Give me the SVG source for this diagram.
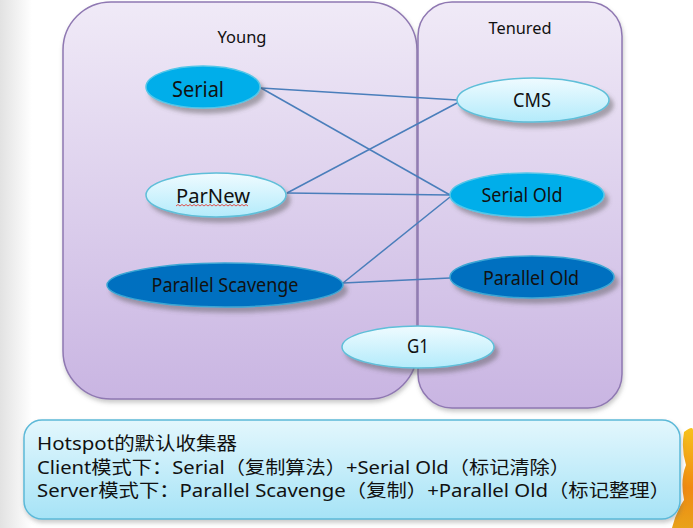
<svg xmlns="http://www.w3.org/2000/svg" width="693" height="528" viewBox="0 0 693 528">
<defs>
<linearGradient id="bgL" x1="0" y1="0" x2="1" y2="0"><stop offset="0" stop-color="#e2e2e2"/><stop offset="1" stop-color="#ffffff"/></linearGradient>
<linearGradient id="boxG" x1="0" y1="0" x2="0" y2="1"><stop offset="0" stop-color="#f0eaf7"/><stop offset="1" stop-color="#c9b5e2"/></linearGradient>
<linearGradient id="lightG" x1="0" y1="0" x2="0" y2="1"><stop offset="0" stop-color="#effbff"/><stop offset="1" stop-color="#b3ebfb"/></linearGradient>
<linearGradient id="noteG" x1="0" y1="0" x2="0" y2="1"><stop offset="0" stop-color="#e3f7fd"/><stop offset="1" stop-color="#a6e3f6"/></linearGradient>
<linearGradient id="sunG" x1="0" y1="0" x2="0" y2="1"><stop offset="0" stop-color="#f7c21b"/><stop offset="0.6" stop-color="#f08a10"/><stop offset="1" stop-color="#e8a21a"/></linearGradient>
<filter id="sh" x="-20%" y="-20%" width="150%" height="160%"><feDropShadow dx="4" dy="5" stdDeviation="2" flood-color="#555" flood-opacity="0.45"/></filter>
<filter id="shb" x="-10%" y="-10%" width="120%" height="120%"><feDropShadow dx="1" dy="3" stdDeviation="2" flood-color="#666" flood-opacity="0.35"/></filter>
</defs>
<style>
.box{fill:url(#boxG);stroke:#8f78b2;stroke-width:1.5}
.light{fill:url(#lightG);stroke:#5ebfd9;stroke-width:1.5}
.mid{fill:#00aeea;stroke:#52c6e8;stroke-width:1.5}
.dark{fill:#0070c0;stroke:#3aa6d4;stroke-width:1.5}
.lbl{font-family:"Noto Sans","Liberation Sans",sans-serif;fill:#111;text-anchor:middle}
.conn line{stroke:#4a7ebb;stroke-width:1.5}
.note{font-family:"Noto Sans","Noto Sans CJK SC",sans-serif;font-size:18px;fill:#111}
</style>
<rect x="0" y="0" width="693" height="528" fill="#ffffff"/>
<rect x="0" y="0" width="32" height="528" fill="url(#bgL)"/>
<path d="M684,432 Q693,425 693,430 L693,528 L672,528 Q676,512 684,500 Q680,480 686,465 Q681,450 684,432 Z" fill="url(#sunG)"/>

<g id="young"><rect class="box" x="63" y="2" width="354" height="397" rx="48" ry="48" filter="url(#shb)"/><text class="lbl" x="242" y="43" font-size="17" textLength="49" lengthAdjust="spacingAndGlyphs">Young</text></g>
<g id="tenured"><rect class="box" x="418" y="2" width="204" height="406" rx="34" ry="34" filter="url(#shb)"/><text class="lbl" x="520" y="34" font-size="16" textLength="63" lengthAdjust="spacingAndGlyphs">Tenured</text></g>

<g id="connectors" class="conn">
<line x1="261" y1="88" x2="457" y2="100"/>
<line x1="261" y1="88" x2="450" y2="195"/>
<line x1="287" y1="193" x2="457" y2="103"/>
<line x1="287" y1="193" x2="450" y2="195"/>
<line x1="343" y1="283" x2="450" y2="197"/>
<line x1="343" y1="283" x2="450" y2="278"/>
</g>

<g id="serial"><ellipse class="mid" cx="203" cy="87" rx="57" ry="21" filter="url(#sh)"/><text class="lbl" x="198" y="97" font-size="22" textLength="52" lengthAdjust="spacingAndGlyphs">Serial</text></g>
<g id="parnew"><ellipse class="light" cx="216" cy="195" rx="70" ry="22" filter="url(#sh)"/><text class="lbl" x="213" y="203" font-size="20" textLength="74" lengthAdjust="spacingAndGlyphs">ParNew</text><path d="M176,206 l2,-1.5 l2,1.5 l2,-1.5 l2,1.5 l2,-1.5 l2,1.5 l2,-1.5 l2,1.5 l2,-1.5 l2,1.5 l2,-1.5 l2,1.5 l2,-1.5 l2,1.5 l2,-1.5 l2,1.5 l2,-1.5 l2,1.5 l2,-1.5 l2,1.5 l2,-1.5 l2,1.5 l2,-1.5 l2,1.5 l2,-1.5 l2,1.5 l2,-1.5 l2,1.5 l2,-1.5 l2,1.5 l2,-1.5 l2,1.5 l2,-1.5 l2,1.5 l2,-1.5 l2,1.5" fill="none" stroke="#e0403a" stroke-width="0.9"/></g>
<g id="parallel-scavenge"><ellipse class="dark" cx="225" cy="285" rx="118" ry="22" filter="url(#sh)"/><text class="lbl" x="225" y="292" font-size="19" textLength="147" lengthAdjust="spacingAndGlyphs">Parallel Scavenge</text></g>
<g id="cms"><ellipse class="light" cx="533" cy="100" rx="76" ry="22" filter="url(#sh)"/><text class="lbl" x="532" y="107" font-size="19" textLength="38" lengthAdjust="spacingAndGlyphs">CMS</text></g>
<g id="serial-old"><ellipse class="mid" cx="527" cy="195" rx="77" ry="22" filter="url(#sh)"/><text class="lbl" x="522" y="202" font-size="19" textLength="81" lengthAdjust="spacingAndGlyphs">Serial Old</text></g>
<g id="parallel-old"><ellipse class="dark" cx="532" cy="277" rx="82" ry="21" filter="url(#sh)"/><text class="lbl" x="531" y="285" font-size="19" textLength="96" lengthAdjust="spacingAndGlyphs">Parallel Old</text></g>
<g id="g1"><ellipse class="light" cx="418" cy="347" rx="76" ry="21" filter="url(#sh)"/><text class="lbl" x="418" y="353" font-size="19" textLength="22" lengthAdjust="spacingAndGlyphs">G1</text></g>

<g id="note">
<rect x="24" y="420" width="656" height="99" rx="18" ry="18" fill="url(#noteG)" stroke="#5cb9d8" stroke-width="1.5" filter="url(#shb)"/>
<text class="note" x="37" y="450" textLength="200" lengthAdjust="spacingAndGlyphs">Hotspot的默认收集器</text>
<text class="note" x="37" y="474" textLength="533" lengthAdjust="spacingAndGlyphs">Client模式下：Serial（复制算法）+Serial Old（标记清除）</text>
<text class="note" x="37" y="497" textLength="633" lengthAdjust="spacingAndGlyphs">Server模式下：Parallel Scavenge（复制）+Parallel Old（标记整理）</text>
</g>
</svg>
